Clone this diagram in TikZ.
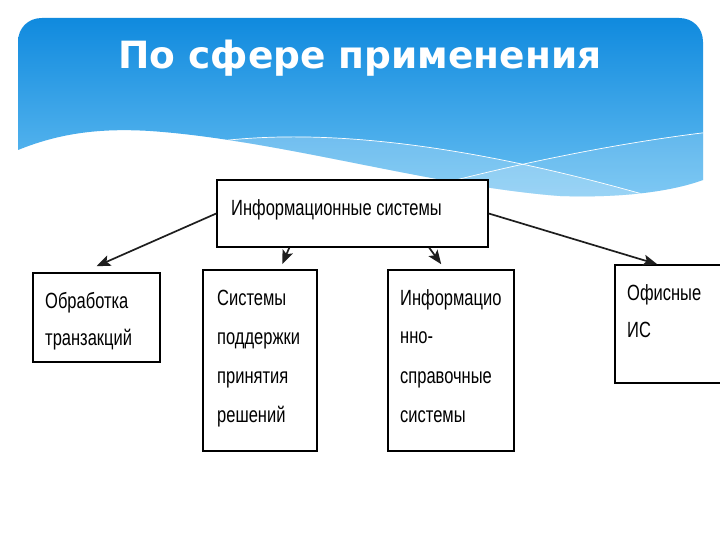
\documentclass[tikz,border=0pt]{standalone}
\usepackage{fontspec}
\setmainfont{Liberation Sans}
\newfontfamily\boxfont{Liberation Sans}[FakeStretch=0.75]
\newfontfamily\titlefont{DejaVu Sans}
\usetikzlibrary{arrows.meta,calc}
\definecolor{hdrtop}{RGB}{16,138,222}
\definecolor{hdrbot}{RGB}{105,192,242}
\definecolor{connclr}{RGB}{30,30,30}
\tikzset{
  box/.style={draw=black, line width=1.5pt, fill=white, inner sep=0pt},
  boxtext/.style={anchor=base west, inner sep=0pt, font=\boxfont\fontsize{22}{26}\selectfont},
  conn/.style={draw=connclr, line width=1.7pt, -{Stealth[length=14pt,width=11pt,inset=3pt]}},
  wline/.style={draw=white, line width=0.7pt}
}
\begin{document}
\begin{tikzpicture}[x=1pt,y=-1pt]
\useasboundingbox (0,0) rectangle (720,540);
\clip (0,0) rectangle (720,540);
\fill[white] (0,0) rectangle (720,540);
% header banner
\begin{scope}
\path[clip] (18,150) -- (18,42) .. controls (18,28) and (28,18) .. (42,18) -- (679,18)
  .. controls (693,18) and (703,28) .. (703,42) -- (703,180)
  .. controls (670,192) and (620,198) .. (560,196)
  .. controls (430,186) and (280,140) .. (150,131)
  .. controls (100,128) and (60,133) .. (18,150) -- cycle;
\shade[top color=hdrtop, bottom color=hdrbot] (18,18) rectangle (703,200);
\fill[white, opacity=0.22] (220,141) .. controls (330,128) and (480,145) .. (680,205) -- (720,260) -- (150,260) -- cycle;
\fill[white, opacity=0.15] (400,195) .. controls (480,172) and (600,145) .. (710,132) -- (720,260) -- (400,260) -- cycle;
\draw[wline] (220,141) .. controls (330,128) and (480,145) .. (680,205);
\draw[wline] (400,195) .. controls (480,172) and (600,145) .. (710,132);
\end{scope}
\node[anchor=base, inner sep=0pt, text=white, font=\titlefont\bfseries\fontsize{37.5}{40}\selectfont] (title) at (360,69) {По сфере применения};
% boxes
\node[box, minimum width=271pt, minimum height=67pt] (top) at (352.5,213.5) {};
\node[box, minimum width=127pt, minimum height=89pt] (b1) at (96.5,317.5) {};
\node[box, minimum width=114pt, minimum height=181pt] (b2) at (260,360.5) {};
\node[box, minimum width=126pt, minimum height=181pt] (b3) at (451,360.5) {};
\node[box, minimum width=125pt, minimum height=118pt] (b4) at (677.5,324) {};
% texts
\node[boxtext] (ttop) at (231,215) {Информационные системы};
\node[boxtext] (t1a) at (45,308) {Обработка};
\node[boxtext] (t1b) at (45,345) {транзакций};
\node[boxtext] (t2a) at (217,305) {Системы};
\node[boxtext] (t2b) at (217,344) {поддержки};
\node[boxtext] (t2c) at (217,383) {принятия};
\node[boxtext] (t2d) at (217,422) {решений};
\node[boxtext] (t3a) at (400,305) {Информацио};
\node[boxtext] (t3b) at (400,343) {нно-};
\node[boxtext] (t3c) at (400,383) {справочные};
\node[boxtext] (t3d) at (400,422) {системы};
\node[boxtext] (t4a) at (627,300) {Офисные};
\node[boxtext] (t4b) at (627,337) {ИС};
% connectors
\draw[conn] (top.west) -- ($(b1.north)+(0,-6)$);
\draw[conn] ($(top.south west)+(73,0)$) -- ($(b2.north west)+(80,-5)$);
\draw[conn] ($(top.south west)+(213,0)$) -- ($(b3.north west)+(54,-5)$);
\draw[conn] (top.east) -- ($(b4.north west)+(43,0)$);
\end{tikzpicture}
\end{document}
